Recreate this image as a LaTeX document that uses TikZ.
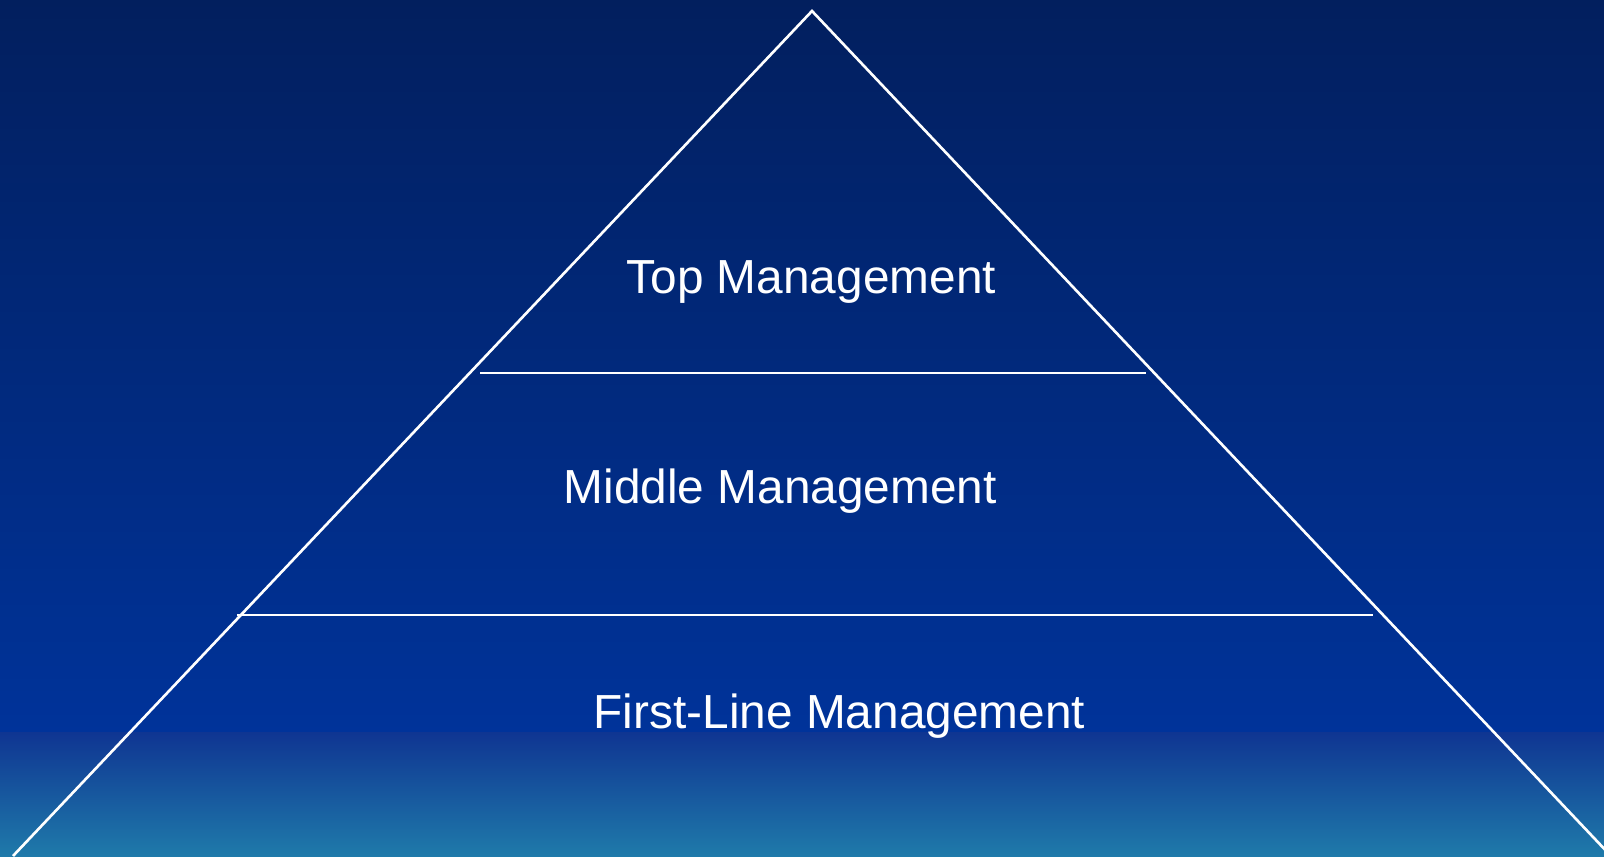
\documentclass[tikz,border=0pt]{standalone}
\usepackage{fontspec}
\setmainfont{Liberation Sans}
\definecolor{skytop}{HTML}{021F5E}
\definecolor{skymid}{HTML}{00339A}
\definecolor{bandtop}{HTML}{0F3592}
\definecolor{bandbot}{HTML}{1F7AAA}
\tikzset{
  edge/.style={draw=white,line width=0.75pt},
  levellabel/.style={text=white,inner sep=0pt,anchor=base west,font=\fontsize{13.6pt}{16pt}\selectfont}
}
\begin{document}
\begin{tikzpicture}
		\useasboundingbox (0,0) rectangle (16.04,8.56);
		\clip (0,0) rectangle (16.04,8.56);
		\shade[top color=skytop,bottom color=skymid] (0,1.23) rectangle (16.04,8.56);
		\shade[top color=bandtop,bottom color=bandbot] (0,0) rectangle (16.04,1.24);
		\coordinate (apex) at (8.12,8.45);
		\coordinate (baseL) at (0.13,0);
		\coordinate (baseR) at (16.11,0);
		\coordinate (topL) at (4.80,4.83);
		\coordinate (topR) at (11.46,4.83);
		\coordinate (midL) at (2.37,2.41);
		\coordinate (midR) at (13.73,2.41);
		\draw[edge] (baseL)--(apex)--(baseR);
		\draw[edge] (topL)--(topR);
		\draw[edge] (midL)--(midR);
		\node[levellabel] (top) at (6.26,5.63) {Top Management};
		\node[levellabel] (middle) at (5.63,3.53) {Middle Management};
		\node[levellabel] (first) at (5.93,1.28) {First-Line Management};
		\end{tikzpicture}
\end{document}
